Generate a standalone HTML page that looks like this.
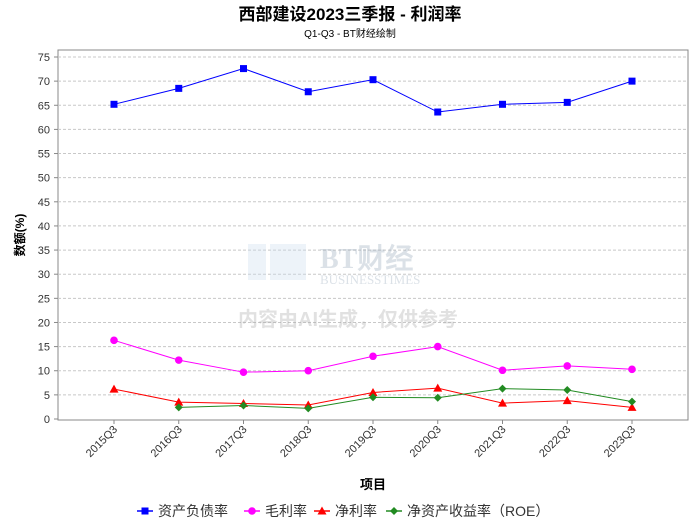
<!DOCTYPE html>
<html><head><meta charset="utf-8">
<style>
body{margin:0;background:#fff;}
svg{display:block;font-family:"Liberation Sans","Noto Sans CJK SC",sans-serif;}
</style></head>
<body>
<svg id="chart" width="700" height="524">
<text x="350" y="20" text-anchor="middle" font-size="17" font-weight="bold" fill="#000">西部建设2023三季报 - 利润率</text>
<text x="350" y="37" text-anchor="middle" font-size="10" fill="#000">Q1-Q3 - BT财经绘制</text>
<rect x="58" y="50" width="630" height="370" fill="#fff" stroke="#888"/>
<g id="grid"></g>
<g opacity="0.35">
<text x="320" y="268" font-size="28" font-family="Liberation Serif,serif" fill="#9ab" font-weight="bold">BT财经</text>
<text x="320" y="284" font-size="13" font-family="Liberation Serif,serif" fill="#9ab">BUSINESSTIMES</text>
<rect x="248" y="244" width="18" height="36" fill="#cde"/><rect x="270" y="244" width="36" height="36" fill="#cde"/>
<text x="348" y="326" text-anchor="middle" font-size="20" fill="#aaa" font-weight="bold">内容由AI生成，仅供参考</text>
</g>
<g id="series"></g>
<text x="24" y="235" transform="rotate(-90 24 235)" text-anchor="middle" font-size="12" font-weight="bold">数额(%)</text>
<text x="373" y="489" text-anchor="middle" font-size="13" font-weight="bold">项目</text>
<g id="legend"></g>
</svg>
<script>
const categories=["2015Q3","2016Q3","2017Q3","2018Q3","2019Q3","2020Q3","2021Q3","2022Q3","2023Q3"];
const yTicks=[0,5,10,15,20,25,30,35,40,45,50,55,60,65,70,75];
const debtRatio=[65.2,68.5,72.6,67.8,70.3,63.6,65.2,65.6,70.0];
const grossMargin=[16.3,12.2,9.7,10.0,13.0,15.0,10.1,11.0,10.3];
const netMargin=[6.2,3.5,3.2,2.9,5.5,6.4,3.3,3.8,2.4];
const roe=[null,2.4,2.8,2.2,4.5,4.4,6.3,6.0,3.6];
const seriesNames=["资产负债率","毛利率","净利率","净资产收益率（ROE）"];
const NS="http://www.w3.org/2000/svg";
function y(v){return 419-(v/75)*362;}
function x(i){return 114+i*64.75;}
function mk(tag,attrs,parent){const e=document.createElementNS(NS,tag);for(const k in attrs)e.setAttribute(k,attrs[k]);parent.appendChild(e);return e;}
const grid=document.getElementById('grid');
yTicks.forEach(t=>{
  if(t>0){const l=mk('line',{x1:58,x2:688,y1:y(t),y2:y(t),stroke:'#c8c8c8','stroke-dasharray':'3,2'},grid);
  
  }
  const tk=mk('line',{x1:54,x2:58,y1:y(t),y2:y(t),stroke:'#888'},grid);
  
  
  const tx=mk('text',{x:50,y:y(t)+4,'text-anchor':'end','font-size':11,fill:'#333'},grid);
  tx.textContent=t;
  
  
});
categories.forEach((c,i)=>{
  const tk=mk('line',{x1:x(i),x2:x(i),y1:420,y2:424,stroke:'#888'},grid);
  
  
  const tx=mk('text',{x:x(i)+4,y:430,'text-anchor':'end','font-size':11,fill:'#333',transform:`rotate(-45 ${x(i)+4} 430)`},grid);
  tx.textContent=c;
  
  
});
const sg=document.getElementById('series');
function marker(type,cx,cy,color,parent){
  let m;
  if(type==='square')m=mk('rect',{x:cx-3.5,y:cy-3.5,width:7,height:7,fill:color},parent);
  else if(type==='circle')m=mk('circle',{cx:cx,cy:cy,r:3.8,fill:color},parent);
  else if(type==='tri')m=mk('polygon',{points:`${cx},${cy-4.5} ${cx+4.5},${cy+3.5} ${cx-4.5},${cy+3.5}`,fill:color},parent);
  else m=mk('polygon',{points:`${cx},${cy-4} ${cx+4},${cy} ${cx},${cy+4} ${cx-4},${cy}`,fill:color},parent);
  return m;
}
function draw(vals,color,type,name){
  const g=mk('g',{},sg);
  
  
  let d='';vals.forEach((v,i)=>{if(v==null)return;d+=(d?'L':'M')+x(i)+','+y(v);});
  const p=mk('path',{d:d,fill:'none',stroke:color,'stroke-width':1},g);
  
  
  vals.forEach((v,i)=>{if(v==null)return;const m=marker(type,x(i),y(v),color,g);
    
    });
}
draw(debtRatio,'#0000ff','square','debt-ratio');
draw(grossMargin,'#ff00ff','circle','gross-margin');
draw(netMargin,'#ff0000','tri','net-margin');
draw(roe,'#228b22','diamond','roe');
const lg=document.getElementById('legend');
const lx=[140,247,317,389],colors=['#0000ff','#ff00ff','#ff0000','#228b22'],types=['square','circle','tri','diamond'];
seriesNames.forEach((n,i)=>{
  const g=mk('g',{},lg);
  
  
  mk('line',{x1:lx[i]-3,x2:lx[i]+13,y1:511,y2:511,stroke:colors[i],'stroke-width':1.5},g);
  marker(types[i],lx[i]+5,511,colors[i],g);
  const t=mk('text',{x:lx[i]+18,y:516,'font-size':14,fill:'#333'},g);t.textContent=n;
});
</script>
</body></html>
